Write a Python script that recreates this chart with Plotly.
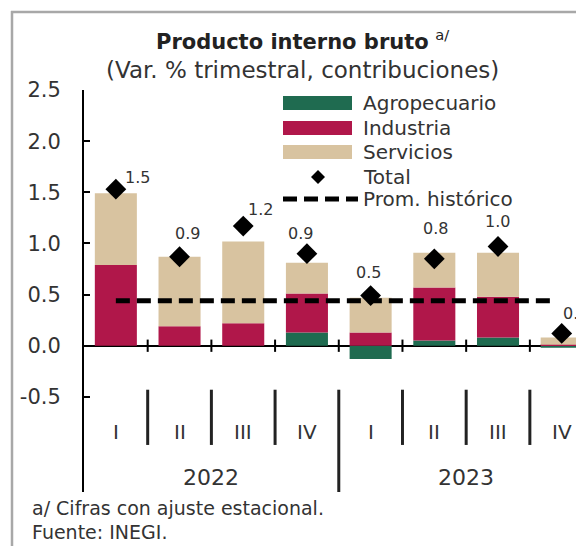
import plotly.graph_objects as go

# ---------------- data ----------------
quarters = ["I", "II", "III", "IV", "I", "II", "III", "IV"]
years = ["2022", "2023"]
agropecuario = [0.00, 0.00, 0.00, 0.13, -0.13, 0.05, 0.08, -0.02]
industria = [0.79, 0.19, 0.22, 0.38, 0.13, 0.52, 0.40, 0.01]
servicios = [0.70, 0.68, 0.80, 0.30, 0.34, 0.34, 0.43, 0.07]
total = [1.53, 0.87, 1.17, 0.90, 0.49, 0.85, 0.97, 0.12]
total_labels = ["1.5", "0.9", "1.2", "0.9", "0.5", "0.8", "1.0", "0.1"]
prom_historico = 0.44
y_ticks = [-0.5, 0.0, 0.5, 1.0, 1.5, 2.0, 2.5]

# ---------------- geometry / style ----------------
OFF = 8  # page body margin
W, H = 584, 546
ML, MT = 84 - OFF, 90 - OFF
MR = W - (584 - OFF)
MB = H - (492 - OFF)
PW, PH = W - ML - MR, H - MT - MB
FONT = "DejaVu Sans"
TXT = "#333333"
C_AGRO = "#1f6b50"
C_IND = "#b0174a"
C_SERV = "#d8c3a0"


def px(xpage):
    return (xpage - OFF - ML) / PW


def py(ypage):
    return (H - MB - (ypage - OFF)) / PH


x = list(range(len(quarters)))

fig = go.Figure()
fig.add_trace(go.Bar(x=x, y=agropecuario, name="Agropecuario", marker_color=C_AGRO,
                     width=0.66, marker_line_width=0))
fig.add_trace(go.Bar(x=x, y=industria, name="Industria", marker_color=C_IND,
                     width=0.66, marker_line_width=0))
fig.add_trace(go.Bar(x=x, y=servicios, name="Servicios", marker_color=C_SERV,
                     width=0.66, marker_line_width=0))
fig.add_trace(go.Scatter(x=[x[0], x[-2] + 0.85], y=[prom_historico, prom_historico],
                         mode="lines", name="Prom. histórico",
                         line=dict(color="black", width=5, dash="14px,7px")))
fig.add_trace(go.Scatter(x=x, y=total, mode="markers", name="Total",
                         marker=dict(symbol="diamond", size=16, color="black")))

# data labels for totals
offsets = [(22, 12), (8, 23), (17, 17), (-6, 20), (-2, 23), (1, 30), (-1, 25), (14, 20)]
for xi, yi, lab, (dx, dy) in zip(x, total, total_labels, offsets):
    fig.add_annotation(x=xi, y=yi, text=lab, showarrow=False, xshift=dx, yshift=dy,
                       font=dict(family=FONT, size=16, color=TXT))

shapes = []
# boundary ticks on zero line
for i in range(len(quarters) - 1):
    shapes.append(dict(type="line", xref="x", yref="y", x0=i + 0.5, x1=i + 0.5,
                       y0=-0.06, y1=0.06, line=dict(color="black", width=2)))
# separators below axis
for i in range(len(quarters) - 1):
    long_sep = (i == 3)
    shapes.append(dict(type="line", xref="x", yref="y", x0=i + 0.5, x1=i + 0.5,
                       y0=-0.43, y1=(-1.45 if long_sep else -0.97),
                       line=dict(color="#222222", width=3)))
# quarter labels
for xi, q in zip(x, quarters):
    fig.add_annotation(x=xi, y=-0.845, text=q, showarrow=False,
                       font=dict(family=FONT, size=20, color=TXT))
# year labels
for j, yr in enumerate(years):
    fig.add_annotation(x=1.5 + 4 * j, y=-1.285, text=yr, showarrow=False,
                       font=dict(family=FONT, size=22, color=TXT))

# frame (left and top gray border)
shapes.append(dict(type="line", xref="paper", yref="paper", x0=px(12), x1=px(12),
                   y0=py(11), y1=py(560), layer="above",
                   line=dict(color="#a8a8a8", width=2.5)))
shapes.append(dict(type="line", xref="paper", yref="paper", x0=px(11), x1=px(600),
                   y0=py(12), y1=py(12), layer="above",
                   line=dict(color="#a8a8a8", width=2.5)))

# manual legend
leg_rows = [103, 128, 152, 177, 199]
leg_names = ["Agropecuario", "Industria", "Servicios", "Total", "Prom. histórico"]
for ry, col in zip(leg_rows[:3], [C_AGRO, C_IND, C_SERV]):
    shapes.append(dict(type="rect", xref="paper", yref="paper", x0=px(283), x1=px(352),
                       y0=py(ry + 7), y1=py(ry - 7), fillcolor=col, line=dict(width=0)))
# diamond
cx, cy, r = 318, leg_rows[3], 7
shapes.append(dict(type="path", xref="paper", yref="paper",
                   path=f"M {px(cx - r)} {py(cy)} L {px(cx)} {py(cy - r)} L {px(cx + r)} {py(cy)} L {px(cx)} {py(cy + r)} Z",
                   fillcolor="black", line=dict(width=0)))
shapes.append(dict(type="line", xref="paper", yref="paper", x0=px(283), x1=px(358),
                   y0=py(leg_rows[4]), y1=py(leg_rows[4]),
                   line=dict(color="black", width=5, dash="14px,7px")))
for ry, nm in zip(leg_rows, leg_names):
    fig.add_annotation(xref="paper", yref="paper", x=px(361), y=py(ry), text=nm,
                       showarrow=False, xanchor="left", yanchor="middle",
                       font=dict(family=FONT, size=20, color=TXT))

# title
fig.add_annotation(xref="paper", yref="paper", x=px(302), y=py(40),
                   text="<b>Producto interno bruto</b> <sup>a/</sup>", showarrow=False,
                   xanchor="center", yanchor="middle",
                   font=dict(family=FONT, size=21, color="#222222"))
fig.add_annotation(xref="paper", yref="paper", x=px(302), y=py(70),
                   text="(Var. % trimestral, contribuciones)", showarrow=False,
                   xanchor="center", yanchor="middle",
                   font=dict(family=FONT, size=23, color=TXT))
# footnotes
fig.add_annotation(xref="paper", yref="paper", x=px(30), y=py(508),
                   text="a/ Cifras con ajuste estacional.", showarrow=False,
                   xanchor="left", yanchor="middle",
                   font=dict(family=FONT, size=19, color=TXT))
fig.add_annotation(xref="paper", yref="paper", x=px(30), y=py(532),
                   text="Fuente: INEGI.", showarrow=False,
                   xanchor="left", yanchor="middle",
                   font=dict(family=FONT, size=19, color=TXT))

fig.update_layout(
    width=W, height=H,
    margin=dict(l=ML, r=MR, t=MT, b=MB, pad=0),
    paper_bgcolor="white", plot_bgcolor="white",
    barmode="relative", bargap=0.34,
    showlegend=False,
    shapes=shapes,
    font=dict(family=FONT, color=TXT),
    xaxis=dict(range=[-0.5, 7.35], showticklabels=False, showgrid=False,
               zeroline=False, showline=False, ticks=""),
    yaxis=dict(range=[-1.43, 2.5], tickvals=y_ticks,
               ticktext=[f"{v:.1f}" for v in y_ticks],
               showgrid=False, showline=True, linecolor="black", linewidth=2,
               ticks="inside", ticklen=6, tickwidth=2, tickcolor="black",
               ticklabelstandoff=17,
               zeroline=True, zerolinecolor="black", zerolinewidth=2,
               tickfont=dict(family=FONT, size=21, color=TXT)),
)

fig.write_html("out.html")
